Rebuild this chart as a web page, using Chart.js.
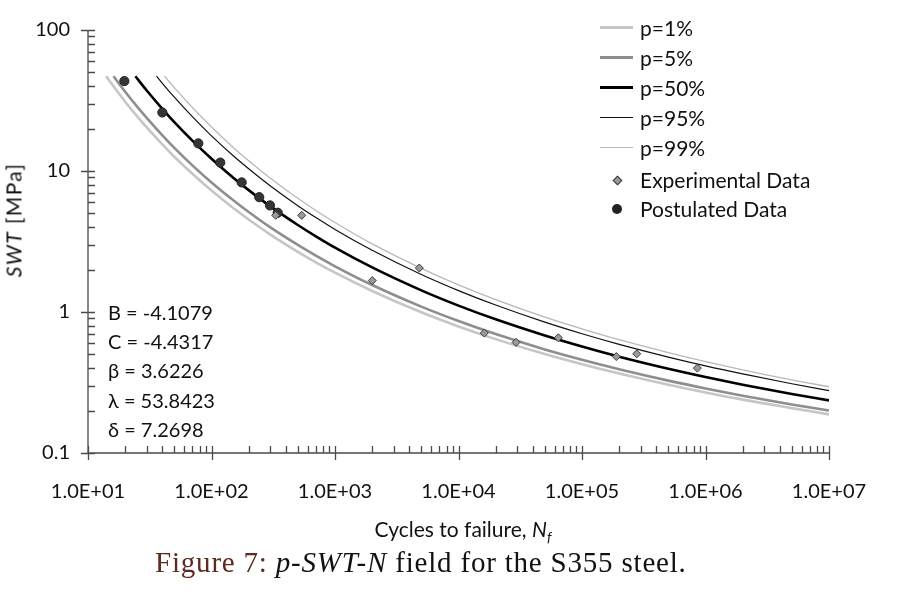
<!DOCTYPE html>
<html>
<head>
<meta charset="utf-8">
<script src="https://cdn.jsdelivr.net/npm/chart.js@4.4.1/dist/chart.umd.min.js"></script>
<style>
  body { margin: 0; background: #fff; }
  #wrap { position: relative; width: 911px; height: 592px; font-family: Lato, "Open Sans", sans-serif; color: #111; }
  #swtChart { position: absolute; left: 0; top: 0; }
  .abs { position: absolute; white-space: nowrap; }
  #legend .row { position: absolute; left: 600px; width: 300px; height: 26px; line-height: 26px; font-size: 21px; white-space: nowrap; }
  #legend .key { position: absolute; left: 0; width: 33px; height: 26px; }
  #legend .txt { position: absolute; left: 40px; top: 0; }
  #params div { position: absolute; left: 108px; font-size: 20px; line-height: 26px; height: 26px; white-space: nowrap; }
  #ytitle { left: 13px; top: 220px; font-size: 21px; letter-spacing: 1.4px; transform: translate(-50%, -50%) rotate(-90deg); }
  #xtitle { left: 463px; top: 516px; font-size: 21px; line-height: 26px; transform: translateX(-50%); }
  #caption { left: 155px; top: 546px; font-family: "Liberation Serif", "DejaVu Serif", serif; font-size: 29px; letter-spacing: 0.8px; }
</style>
</head>
<body>
<div id="wrap">
  <canvas id="swtChart" width="911" height="592"></canvas>
  <div id="legend"></div>
  <div id="params"></div>
  <div id="ytitle" class="abs"><i>SWT</i> [MPa]</div>
  <div id="xtitle" class="abs">Cycles to failure, <i>N</i><sub style="font-size:14px"><i>f</i></sub></div>
  <div id="caption" class="abs"><span style="color:#5e2b1f">Figure 7:</span> <i>p-SWT-N</i> field for the S355 steel.</div>
</div>
<script>
const cyclesGrid = [20, 25, 30, 40, 50, 70, 100, 150, 200, 300, 500, 700, 1e3, 2e3, 5e3,
                    1e4, 2e4, 5e4, 1e5, 2e5, 5e5, 1e6, 2e6, 5e6, 1e7];

const curveLabels = ['p=1%', 'p=5%', 'p=50%', 'p=95%', 'p=99%'];
// each curve starts at the top cut (~47 MPa) at its own cycle count
const curveStartCycles = [14.0, 16.1, 24.2, 35.9, 41.7];
const curveStartSWT = [47, 47, 47, 47, 47];

const swtP1  = [31.0, 24.4, 20.3, 15.42, 12.63, 9.55, 7.26, 5.46, 4.53, 3.54, 2.67, 2.25, 1.90, 1.41, 0.995,
                0.790, 0.642, 0.503, 0.426, 0.366, 0.305, 0.269, 0.239, 0.208, 0.188];
const swtP5  = [36.5, 28.6, 23.7, 17.9, 14.60, 10.97, 8.29, 6.20, 5.12, 3.98, 2.99, 2.51, 2.11, 1.553, 1.091,
                0.862, 0.697, 0.543, 0.459, 0.393, 0.326, 0.287, 0.255, 0.221, 0.200];
const swtP50 = [null, null, 37.1, 27.6, 22.2, 16.41, 12.21, 8.96, 7.32, 5.61, 4.14, 3.44, 2.86, 2.07, 1.424,
                1.110, 0.887, 0.681, 0.569, 0.482, 0.396, 0.346, 0.305, 0.262, 0.236];
const swtP95 = [null, null, null, 41.9, 33.4, 24.3, 17.76, 12.83, 10.37, 7.83, 5.68, 4.68, 3.85, 2.74, 1.846,
                1.419, 1.120, 0.847, 0.701, 0.590, 0.479, 0.415, 0.364, 0.310, 0.277];
const swtP99 = [null, null, null, null, 39.0, 28.2, 20.5, 14.70, 11.83, 8.89, 6.41, 5.25, 4.31, 3.04, 2.04,
                1.557, 1.224, 0.920, 0.760, 0.636, 0.515, 0.445, 0.389, 0.330, 0.295];

const expCycles = [331, 537, 2004, 4819, 16180, 29240, 64300, 189600, 277300, 858900];
const expSWT    = [4.85, 4.85, 1.67, 2.05, 0.709, 0.609, 0.657, 0.483, 0.505, 0.400];

const postCycles = [19.7, 40.0, 78.2, 117.8, 175.6, 243.6, 297.7, 343.6];
const postSWT    = [43.4, 26.0, 15.7, 11.47, 8.30, 6.52, 5.70, 5.06];

const xTicks = [1e1, 1e2, 1e3, 1e4, 1e5, 1e6, 1e7];
const yTicks = [0.1, 1, 10, 100];

const paramLines = ['B = -4.1079', 'C = -4.4317', 'β = 3.6226', 'λ = 53.8423', 'δ = 7.2698'];

const curveValues = [swtP1, swtP5, swtP50, swtP95, swtP99];
const curveColors = ['#c6c6c6', '#8e8e8e', '#000000', '#111111', '#b8b8b8'];
const curveWidths = [2.6, 2.6, 2.6, 1.2, 1.3];
const legendWidths = [3, 3, 3, 1, 1];

const toPoints = (xs, ys) => xs.map((x, i) => ({ x: x, y: ys[i] })).filter(p => p.y !== null);

const datasets = [
    {
        label: 'Experimental Data',
        data: toPoints(expCycles, expSWT),
        showLine: false,
        pointStyle: 'rectRot',
        pointRadius: 4,
        backgroundColor: '#9a9a9a',
        borderColor: '#3a3a3a',
        borderWidth: 1,
        order: 0
    },
    {
        label: 'Postulated Data',
        data: toPoints(postCycles, postSWT),
        showLine: false,
        pointStyle: 'circle',
        pointRadius: 4.6,
        backgroundColor: '#353535',
        borderColor: '#222',
        borderWidth: 1,
        order: 1
    }
];

curveLabels.forEach((label, i) => {
    datasets.push({
        label: label,
        data: [{ x: curveStartCycles[i], y: curveStartSWT[i] }].concat(toPoints(cyclesGrid, curveValues[i])),
        showLine: true,
        borderColor: curveColors[i],
        borderWidth: curveWidths[i],
        pointRadius: 0,
        cubicInterpolationMode: 'monotone',
        fill: false,
        order: 2 + i
    });
});

// axis lines and ticks: majors cross the axis, minors point inward
const axisTicks = {
    id: 'axisTicks',
    afterDraw(chart) {
        const { ctx, chartArea, scales } = chart;
        const x = scales.x, y = scales.y;
        ctx.save();
        ctx.strokeStyle = '#4a4a4a';
        ctx.lineWidth = 1.3;
        ctx.beginPath();
        ctx.moveTo(chartArea.left, chartArea.top);
        ctx.lineTo(chartArea.left, chartArea.bottom);
        ctx.lineTo(chartArea.right, chartArea.bottom);
        for (let d = 1; d <= 7; d++) {
            for (let m = 1; m <= 9; m++) {
                const v = m * Math.pow(10, d);
                if (v > 1e7) break;
                const px = Math.round(x.getPixelForValue(v)) + 0.5;
                ctx.moveTo(px, chartArea.bottom - 7);
                ctx.lineTo(px, m === 1 ? chartArea.bottom + 7 : chartArea.bottom);
            }
        }
        for (let d = -1; d <= 2; d++) {
            for (let m = 1; m <= 9; m++) {
                const v = m * Math.pow(10, d);
                if (v > 100.0001) break;
                const py = Math.round(y.getPixelForValue(v)) + 0.5;
                ctx.moveTo(m === 1 ? chartArea.left - 7 : chartArea.left, py);
                ctx.lineTo(chartArea.left + 7, py);
            }
        }
        ctx.stroke();
        ctx.restore();
    }
};

const tickFont = { family: 'Lato', size: 20 };

new Chart(document.getElementById('swtChart'), {
    type: 'scatter',
    data: { datasets: datasets },
    options: {
        responsive: false,
        animation: false,
        layout: { padding: { left: 0, top: 26, right: 82, bottom: 0 } },
        plugins: { legend: { display: false }, tooltip: { enabled: false } },
        scales: {
            x: {
                type: 'logarithmic',
                min: 10,
                max: 1e7,
                grid: { display: false, drawTicks: false },
                border: { display: false },
                afterBuildTicks: s => { s.ticks = xTicks.map(v => ({ value: v })); },
                afterFit: s => { s.height = 139; },
                ticks: {
                    font: tickFont,
                    color: '#111',
                    padding: 27,
                    maxRotation: 0,
                    autoSkip: false,
                    callback: v => '1.0E+' + String(Math.round(Math.log10(v))).padStart(2, '0')
                }
            },
            y: {
                type: 'logarithmic',
                min: 0.1,
                max: 100,
                grid: { display: false, drawTicks: false },
                border: { display: false },
                afterBuildTicks: s => { s.ticks = yTicks.map(v => ({ value: v })); },
                afterFit: s => { s.width = 88; },
                ticks: {
                    font: tickFont,
                    color: '#111',
                    padding: 18,
                    autoSkip: false,
                    callback: v => String(v)
                }
            }
        }
    },
    plugins: [axisTicks]
});

// legend, in the same order as the original figure
const legendEl = document.getElementById('legend');
const legendRows = [28, 58, 88, 118, 148, 180, 209];
const legendItems = curveLabels.map((label, i) => ({ label: label, kind: 'line', color: curveColors[i], width: legendWidths[i] }))
    .concat([
        { label: 'Experimental Data', kind: 'diamond' },
        { label: 'Postulated Data', kind: 'dot' }
    ]);
legendItems.forEach((item, i) => {
    const row = document.createElement('div');
    row.className = 'row';
    row.style.top = (legendRows[i] - 13) + 'px';
    const key = document.createElement('span');
    key.className = 'key';
    if (item.kind === 'line') {
        key.innerHTML = `<span style="position:absolute;left:0;width:33px;top:${13 - Math.ceil(item.width / 2)}px;height:${item.width}px;background:${item.color}"></span>`;
    } else if (item.kind === 'diamond') {
        key.innerHTML = '<span style="position:absolute;left:14px;top:10px;width:5px;height:5px;background:#9a9a9a;border:1px solid #3a3a3a;transform:rotate(45deg)"></span>';
    } else {
        key.innerHTML = '<span style="position:absolute;left:12px;top:8px;width:10px;height:10px;border-radius:50%;background:#222"></span>';
    }
    const txt = document.createElement('span');
    txt.className = 'txt';
    txt.textContent = item.label;
    row.appendChild(key);
    row.appendChild(txt);
    legendEl.appendChild(row);
});

const paramEl = document.getElementById('params');
const paramRows = [312, 341, 370, 400, 429];
paramLines.forEach((line, i) => {
    const d = document.createElement('div');
    d.style.top = (paramRows[i] - 13) + 'px';
    d.textContent = line;
    paramEl.appendChild(d);
});
</script>
</body>
</html>
